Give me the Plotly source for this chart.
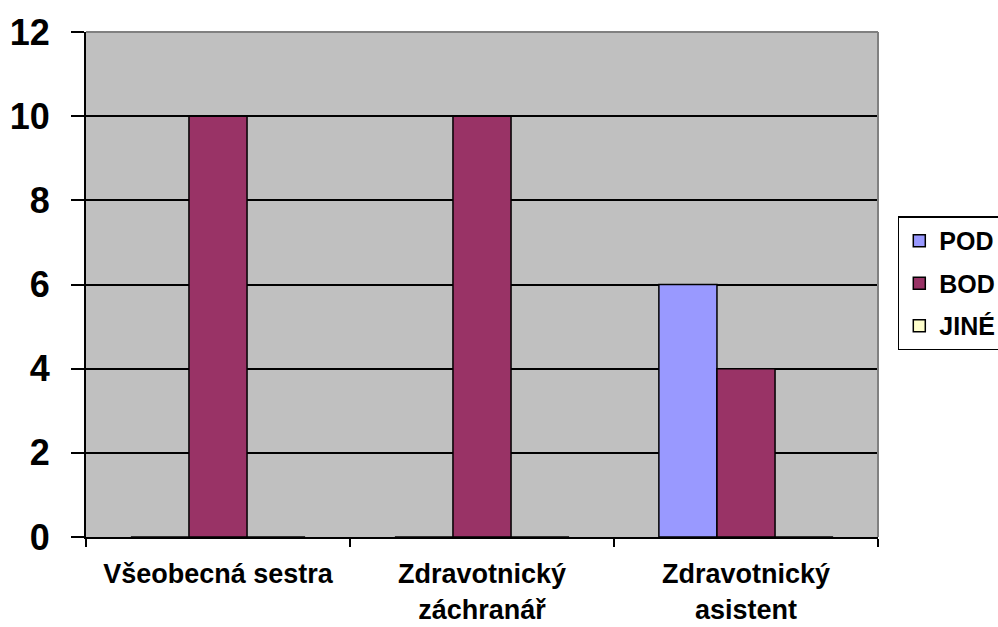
import plotly.graph_objects as go

categories = ["Všeobecná sestra", "Zdravotnický<br>záchranář", "Zdravotnický<br>asistent"]
pod = [0, 0, 6]
bod = [10, 10, 4]
jine = [0, 0, 0]

series = [("POD", pod, "#9999FF"), ("BOD", bod, "#993366"), ("JINÉ", jine, "#FFFFCC")]

FONT = "Arial, Liberation Sans, sans-serif"

fig = go.Figure()
for i, (name, vals, color) in enumerate(series):
    fig.add_trace(go.Bar(
        name=name, x=categories, y=vals,
        marker=dict(color=color, line=dict(color="black", width=1.5)),
        legendgroup=f"g{i}",
    ))

fig.update_layout(
    width=998, height=627,
    margin=dict(l=86, r=120, t=32, b=90, autoexpand=False),
    paper_bgcolor="white",
    plot_bgcolor="#C0C0C0",
    barmode="group",
    bargap=0.34,
    bargroupgap=0,
    font=dict(family=FONT, color="black"),
    legend=dict(
        x=1.025, y=0.502, xanchor="left", yanchor="middle",
        font=dict(size=25, family=FONT, color="black", weight="bold"),
        bordercolor="black", borderwidth=1.5, bgcolor="white",
        tracegroupgap=7, traceorder="grouped",
        itemwidth=30,
    ),
    showlegend=True,
)

fig.update_xaxes(
    tickson="boundaries", ticks="outside", ticklen=8, tickwidth=2, tickcolor="black",
    showline=True, linecolor="black", linewidth=2,
    tickfont=dict(size=27, family=FONT, color="black", weight="bold"),
    ticklabelstandoff=12,
    showgrid=False,
)
fig.update_yaxes(
    range=[0, 12], dtick=2, ticks="outside", ticklen=13, tickwidth=2, tickcolor="black",
    showline=True, linecolor="black", linewidth=2,
    showgrid=True, gridcolor="black", gridwidth=2,
    zeroline=False,
    tickfont=dict(size=36, family=FONT, color="black", weight="bold"),
    ticklabelstandoff=14,
)

# gray frame along top and right of plot area
fig.add_shape(type="line", xref="paper", yref="paper", x0=0, x1=1, y0=1, y1=1,
              line=dict(color="#808080", width=2))
fig.add_shape(type="line", xref="paper", yref="paper", x0=1, x1=1, y0=0, y1=1,
              line=dict(color="#808080", width=2))

fig.write_html("out.html")
